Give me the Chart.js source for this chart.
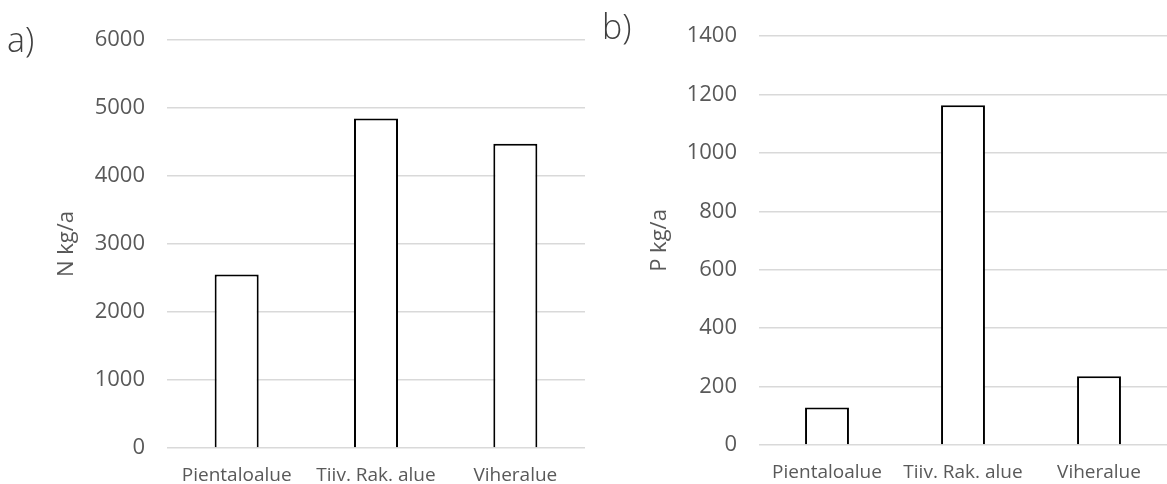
<!DOCTYPE html>
<html>
<head>
<meta charset="utf-8">
<script src="https://cdn.jsdelivr.net/npm/chart.js@4.4.0/dist/chart.umd.min.js"></script>
<style>
  html, body { margin: 0; padding: 0; background: #fff; }
  body { width: 1167px; height: 484px; position: relative; overflow: hidden; font-family: 'Open Sans', sans-serif; }
  .box { position: absolute; top: 0; height: 484px; }
  .tag { position: absolute; font-size: 34px; line-height: 1; color: #404040; font-family: 'Open Sans', sans-serif; font-weight: 300; }
</style>
</head>
<body>
<div class="box" style="left:0;width:590px"><canvas id="chart-n"></canvas></div>
<div class="box" style="left:590px;width:577px"><canvas id="chart-p"></canvas></div>
<div class="tag" style="left:7px;top:22px">a)</div>
<div class="tag" style="left:602px;top:9px">b)</div>
<script>
// ------------------------------------------------------------
// N and P loads by land use
// ------------------------------------------------------------
const CATEGORIES = ['Pientaloalue', 'Tiiv. Rak. alue', 'Viheralue'];
const N_VALUES = [2550, 4845, 4475];
const P_VALUES = [128, 1163, 235];
const N_TICKS = { min: 0, max: 6000, step: 1000 };
const P_TICKS = { min: 0, max: 1400, step: 200 };

const GREY = '#595959';
const GRID = '#d9d9d9';
const FONT = "'Open Sans', sans-serif";

function makeChart(id, values, ticks, title, opt) {
  const canvas = document.getElementById(id);
  return new Chart(canvas.getContext('2d'), {
    type: 'bar',
    data: {
      labels: CATEGORIES,
      datasets: [{
        data: values,
        backgroundColor: '#ffffff',
        borderColor: '#000000',
        borderWidth: 2,
        borderSkipped: 'bottom',
        categoryPercentage: 1,
        barPercentage: opt.barPct,
      }],
    },
    options: {
      responsive: true,
      maintainAspectRatio: false,
      animation: false,
      devicePixelRatio: 1,
      layout: { padding: { top: opt.top, right: opt.right, left: 0, bottom: 0 } },
      plugins: { legend: { display: false }, tooltip: { enabled: false } },
      scales: {
        x: {
          grid: { display: false },
          border: { display: false },
          ticks: { color: GREY, font: { family: FONT, size: 19 }, padding: 8, maxRotation: 0 },
          afterFit: s => { s.height = opt.xh; },
        },
        y: {
          min: ticks.min, max: ticks.max,
          ticks: {
            stepSize: ticks.step, color: GREY, font: { family: FONT, size: 22 }, padding: 22,
            callback: v => String(v),
          },
          grid: { color: GRID, lineWidth: 1.5, drawTicks: false },
          border: { display: false },
          title: {
            display: true, text: title, color: GREY,
            font: { family: FONT, size: 22 },
            padding: { top: opt.titlePad, bottom: 0 },
          },
          afterFit: s => { s.width = opt.yw; },
        },
      },
    },
  });
}

makeChart('chart-n', N_VALUES, N_TICKS, 'N kg/a',
  { top: 40, right: 5, xh: 36, yw: 167, barPct: 0.316, titlePad: 54 });
makeChart('chart-p', P_VALUES, P_TICKS, 'P kg/a',
  { top: 36, right: 0, xh: 39, yw: 169, barPct: 0.323, titlePad: 57 });
</script>
</body>
</html>
